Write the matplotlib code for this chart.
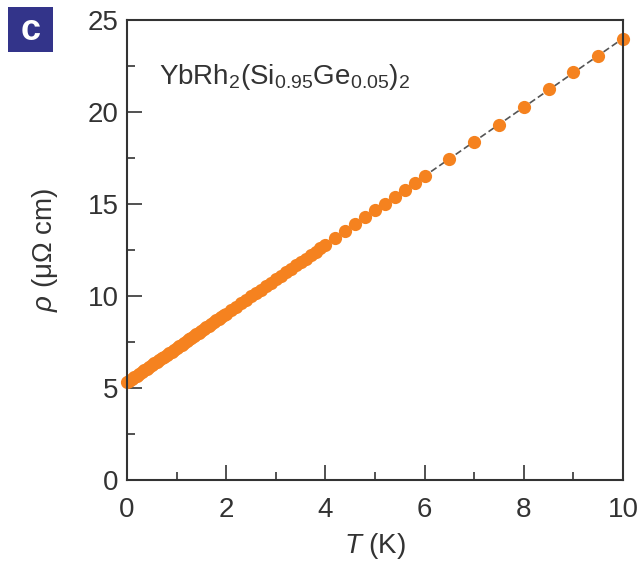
import matplotlib
matplotlib.use("Agg")
import matplotlib.pyplot as plt
from matplotlib.ticker import MultipleLocator
from matplotlib.patches import Rectangle

plt.rcParams['font.family'] = ['Liberation Sans', 'DejaVu Sans']
plt.rcParams['mathtext.fontset'] = 'custom'
plt.rcParams['mathtext.rm'] = 'Liberation Sans'
plt.rcParams['mathtext.it'] = 'Liberation Sans:italic'

# Temperature (K) and resistivity (micro-ohm cm)
temp = [0.00, 0.05, 0.10, 0.15, 0.20, 0.25, 0.30, 0.35, 0.40, 0.45,
        0.50, 0.55, 0.60, 0.65, 0.70, 0.75, 0.80, 0.85, 0.90, 0.95,
        1.00, 1.05, 1.10, 1.15, 1.20, 1.25, 1.30, 1.35, 1.40, 1.45,
        1.50, 1.55, 1.60, 1.65, 1.70, 1.75, 1.80, 1.85, 1.90, 1.95,
        2.0, 2.1, 2.2, 2.3, 2.4, 2.5, 2.6, 2.7, 2.8, 2.9,
        3.0, 3.1, 3.2, 3.3, 3.4, 3.5, 3.6, 3.7, 3.8, 3.9,
        4.0, 4.2, 4.4, 4.6, 4.8, 5.0, 5.2, 5.4, 5.6, 5.8,
        6.0, 6.5, 7.0, 7.5, 8.0, 8.5, 9.0, 9.5, 10.0]
rho = [5.30, 5.39, 5.49, 5.58, 5.67, 5.77, 5.86, 5.95, 6.05, 6.14,
       6.24, 6.33, 6.42, 6.52, 6.61, 6.70, 6.80, 6.89, 6.98, 7.08,
       7.17, 7.26, 7.36, 7.45, 7.54, 7.64, 7.73, 7.82, 7.92, 8.01,
       8.11, 8.20, 8.29, 8.39, 8.48, 8.57, 8.67, 8.76, 8.85, 8.95,
       9.04, 9.23, 9.41, 9.60, 9.79, 9.98, 10.16, 10.35, 10.54, 10.72,
       10.91, 11.10, 11.28, 11.47, 11.66, 11.85, 12.03, 12.22, 12.41, 12.59,
       12.78, 13.15, 13.53, 13.90, 14.28, 14.65, 15.02, 15.40, 15.77, 16.15,
       16.52, 17.45, 18.35, 19.29, 20.29, 21.23, 22.16, 23.04, 23.95]

# linear fit drawn as dashed line
fit_temp = [0.0, 10.0]
fit_rho = [5.3, 24.0]

fig = plt.figure(figsize=(6.43, 5.70), dpi=100)
ax = fig.add_axes([0.1975, 0.158, 0.7715, 0.807])

ax.plot(fit_temp, fit_rho, ls=(0, (4, 2)), color='#555555', lw=1.2, zorder=1)
ax.plot(temp, rho, 'o', color='#f5821f', ms=9.5, mec='none', zorder=2, clip_on=False)

ax.set_xlim(0, 10)
ax.set_ylim(0, 25)
ax.xaxis.set_major_locator(MultipleLocator(2))
ax.xaxis.set_minor_locator(MultipleLocator(1))
ax.yaxis.set_major_locator(MultipleLocator(5))
ax.yaxis.set_minor_locator(MultipleLocator(2.5))
ax.tick_params(which='both', direction='in', top=False, right=False,
               labelsize=20, colors='#333333', width=1.2)
ax.tick_params(axis='x', pad=12)
ax.tick_params(axis='y', pad=6)
ax.tick_params(which='major', length=11)
ax.tick_params(which='minor', length=6)
for s in ax.spines.values():
    s.set_color('#333333')
    s.set_linewidth(1.5)

ax.set_xlabel(r'$T$ (K)', fontsize=20, color='#333333', labelpad=6)
ax.set_ylabel(r'$\rho$ ($\mathregular{\mu\Omega}$ cm)', fontsize=20, color='#333333', labelpad=20)

ax.text(0.065, 0.86, r'YbRh$_\mathregular{2}$(Si$_\mathregular{0.95}$Ge$_\mathregular{0.05}$)$_\mathregular{2}$',
        transform=ax.transAxes, fontsize=20, color='#333333', va='baseline')

# panel label
fig.patches.append(Rectangle((8 / 643, 1 - 52 / 570), 45 / 643, 45 / 570,
                             transform=fig.transFigure, fc='#33348a', ec='none'))
fig.text(30.5 / 643, 1 - 30 / 570, 'c', fontsize=26, fontweight='bold', color='white',
         ha='center', va='center')

fig.savefig('out.png', dpi=100)
